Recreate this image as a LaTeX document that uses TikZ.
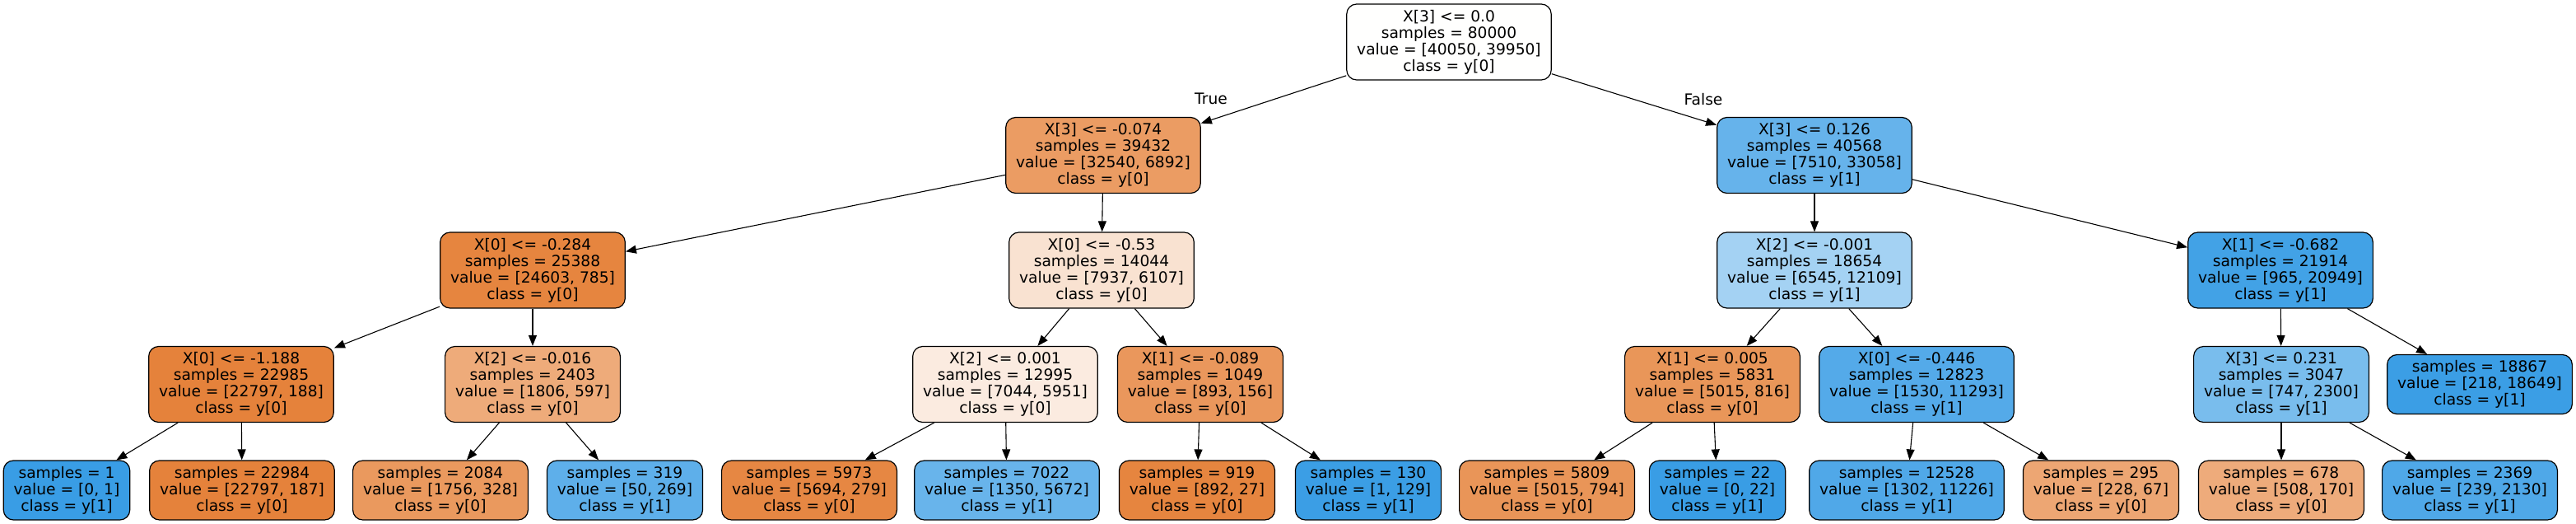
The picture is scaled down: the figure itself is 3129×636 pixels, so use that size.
\documentclass[tikz,border=0pt]{standalone}
\usepackage{fontspec}
\setmainfont{DejaVu Sans}
\usetikzlibrary{arrows.meta}
\definecolor{col0}{RGB}{255,255,254}
\definecolor{col1}{RGB}{235,156,99}
\definecolor{col2}{RGB}{230,133,63}
\definecolor{col3}{RGB}{229,130,59}
\definecolor{col4}{RGB}{57,157,229}
\definecolor{col5}{RGB}{229,130,59}
\definecolor{col6}{RGB}{238,171,122}
\definecolor{col7}{RGB}{234,153,94}
\definecolor{col8}{RGB}{94,175,234}
\definecolor{col9}{RGB}{249,226,209}
\definecolor{col10}{RGB}{251,235,224}
\definecolor{col11}{RGB}{230,135,67}
\definecolor{col12}{RGB}{104,180,235}
\definecolor{col13}{RGB}{234,151,92}
\definecolor{col14}{RGB}{230,133,63}
\definecolor{col15}{RGB}{59,158,229}
\definecolor{col16}{RGB}{102,179,235}
\definecolor{col17}{RGB}{164,210,243}
\definecolor{col18}{RGB}{233,150,89}
\definecolor{col19}{RGB}{233,149,88}
\definecolor{col20}{RGB}{57,157,229}
\definecolor{col21}{RGB}{84,170,233}
\definecolor{col22}{RGB}{80,168,232}
\definecolor{col23}{RGB}{237,166,115}
\definecolor{col24}{RGB}{66,162,230}
\definecolor{col25}{RGB}{121,189,237}
\definecolor{col26}{RGB}{238,171,123}
\definecolor{col27}{RGB}{79,168,232}
\definecolor{col28}{RGB}{59,158,229}
\tikzset{
  treenode/.style={draw, rounded corners=6pt, align=center, inner xsep=6.2pt,
    inner ysep=0pt, line width=0.6pt, font=\fontsize{9.33}{10}\selectfont},
  splitnode/.style={treenode, minimum height=46pt},
  leafnode/.style={treenode, minimum height=36pt},
  tedge/.style={-{Triangle[length=6.5pt,width=5pt]}, line width=0.55pt},
  edgelabel/.style={font=\fontsize{9.33}{10}\selectfont, inner sep=0pt}
}
\begin{document}
\begin{tikzpicture}[x=0.5pt,y=-0.5pt]
\useasboundingbox (0,0) rectangle (3129,636);
\node[splitnode, fill=col0] (nid0) at (1760,51){X[3] <= 0.0\\samples = 80000\\value = [40050, 39950]\\class = y[0]};
\node[splitnode, fill=col1] (nid1) at (1340,188.5){X[3] <= -0.074\\samples = 39432\\value = [32540, 6892]\\class = y[0]};
\node[splitnode, fill=col2] (nid2) at (647,328){X[0] <= -0.284\\samples = 25388\\value = [24603, 785]\\class = y[0]};
\node[splitnode, fill=col3] (nid3) at (293,466.5){X[0] <= -1.188\\samples = 22985\\value = [22797, 188]\\class = y[0]};
\node[leafnode, fill=col4] (nid4) at (81,595){samples = 1\\value = [0, 1]\\class = y[1]};
\node[leafnode, fill=col5] (nid5) at (294,595){samples = 22984\\value = [22797, 187]\\class = y[0]};
\node[splitnode, fill=col6] (nid6) at (647,466.5){X[2] <= -0.016\\samples = 2403\\value = [1806, 597]\\class = y[0]};
\node[leafnode, fill=col7] (nid7) at (535,595){samples = 2084\\value = [1756, 328]\\class = y[0]};
\node[leafnode, fill=col8] (nid8) at (759,595){samples = 319\\value = [50, 269]\\class = y[1]};
\node[splitnode, fill=col9] (nid9) at (1338,328){X[0] <= -0.53\\samples = 14044\\value = [7937, 6107]\\class = y[0]};
\node[splitnode, fill=col10] (nid10) at (1221,466.5){X[2] <= 0.001\\samples = 12995\\value = [7044, 5951]\\class = y[0]};
\node[leafnode, fill=col11] (nid11) at (983,595){samples = 5973\\value = [5694, 279]\\class = y[0]};
\node[leafnode, fill=col12] (nid12) at (1223,595){samples = 7022\\value = [1350, 5672]\\class = y[1]};
\node[splitnode, fill=col13] (nid13) at (1458,466.5){X[1] <= -0.089\\samples = 1049\\value = [893, 156]\\class = y[0]};
\node[leafnode, fill=col14] (nid14) at (1454,595){samples = 919\\value = [892, 27]\\class = y[0]};
\node[leafnode, fill=col15] (nid15) at (1662,595){samples = 130\\value = [1, 129]\\class = y[1]};
\node[splitnode, fill=col16] (nid16) at (2204,188.5){X[3] <= 0.126\\samples = 40568\\value = [7510, 33058]\\class = y[1]};
\node[splitnode, fill=col17] (nid17) at (2204,328){X[2] <= -0.001\\samples = 18654\\value = [6545, 12109]\\class = y[1]};
\node[splitnode, fill=col18] (nid18) at (2080,466.5){X[1] <= 0.005\\samples = 5831\\value = [5015, 816]\\class = y[0]};
\node[leafnode, fill=col19] (nid19) at (1879,595){samples = 5809\\value = [5015, 794]\\class = y[0]};
\node[leafnode, fill=col20] (nid20) at (2086,595){samples = 22\\value = [0, 22]\\class = y[1]};
\node[splitnode, fill=col21] (nid21) at (2328,466.5){X[0] <= -0.446\\samples = 12823\\value = [1530, 11293]\\class = y[1]};
\node[leafnode, fill=col22] (nid22) at (2316,595){samples = 12528\\value = [1302, 11226]\\class = y[1]};
\node[leafnode, fill=col23] (nid23) at (2552,595){samples = 295\\value = [228, 67]\\class = y[0]};
\node[splitnode, fill=col24] (nid24) at (2770,328){X[1] <= -0.682\\samples = 21914\\value = [965, 20949]\\class = y[1]};
\node[splitnode, fill=col25] (nid25) at (2771,466.5){X[3] <= 0.231\\samples = 3047\\value = [747, 2300]\\class = y[1]};
\node[leafnode, fill=col26] (nid26) at (2771,595){samples = 678\\value = [508, 170]\\class = y[0]};
\node[leafnode, fill=col27] (nid27) at (3000,595){samples = 2369\\value = [239, 2130]\\class = y[1]};
\node[leafnode, fill=col28] (nid28) at (3012,466.5){samples = 18867\\value = [218, 18649]\\class = y[1]};
\node[edgelabel] (lblTrue) at (1471,120){True};
\node[edgelabel] (lblFalse) at (2069,121){False};
\draw[tedge](nid0) -- (nid1);
\draw[tedge](nid1) -- (nid2);
\draw[tedge](nid2) -- (nid3);
\draw[tedge](nid3) -- (nid4);
\draw[tedge](nid3) -- (nid5);
\draw[tedge](nid2) -- (nid6);
\draw[tedge](nid6) -- (nid7);
\draw[tedge](nid6) -- (nid8);
\draw[tedge](nid1) -- (nid9);
\draw[tedge](nid9) -- (nid10);
\draw[tedge](nid10) -- (nid11);
\draw[tedge](nid10) -- (nid12);
\draw[tedge](nid9) -- (nid13);
\draw[tedge](nid13) -- (nid14);
\draw[tedge](nid13) -- (nid15);
\draw[tedge](nid0) -- (nid16);
\draw[tedge](nid16) -- (nid17);
\draw[tedge](nid17) -- (nid18);
\draw[tedge](nid18) -- (nid19);
\draw[tedge](nid18) -- (nid20);
\draw[tedge](nid17) -- (nid21);
\draw[tedge](nid21) -- (nid22);
\draw[tedge](nid21) -- (nid23);
\draw[tedge](nid16) -- (nid24);
\draw[tedge](nid24) -- (nid25);
\draw[tedge](nid25) -- (nid26);
\draw[tedge](nid25) -- (nid27);
\draw[tedge](nid24) -- (nid28);
\end{tikzpicture}
\end{document}
